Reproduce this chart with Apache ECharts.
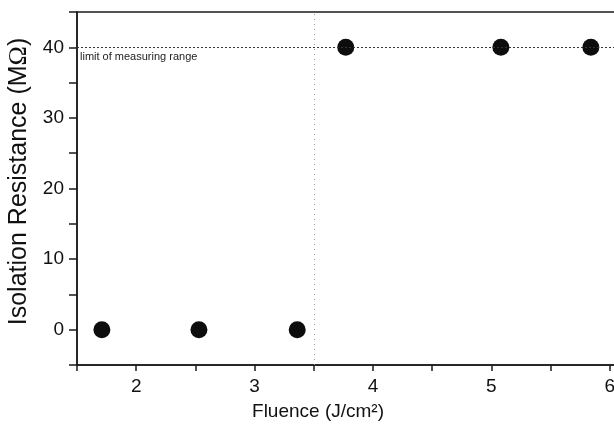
<!DOCTYPE html>
<html>
<head>
<meta charset="utf-8">
<script src="https://cdn.jsdelivr.net/npm/echarts@6/dist/echarts.min.js"></script>
<style>
  html, body { margin: 0; padding: 0; background: #fff; }
  #chart { width: 614px; height: 425px; }
</style>
</head>
<body>
<div id="chart"></div>
<script>
// fluence values (J/cm2) and measured isolation resistance (MOhm)
var fluence = [1.71, 2.53, 3.36, 3.77, 5.08, 5.84];
var resistance = [0, 0, 0, 40, 40, 40];
var limitValue = 40;      // upper limit of the meter
var thresholdX = 3.5;     // vertical dotted separator
var limitText = 'limit of measuring range';

var chart = echarts.init(document.getElementById('chart'));
var font = 'Liberation Sans, Arial, sans-serif';
var axisColor = '#1a1a1a';

var option = {
  backgroundColor: '#fff',
  animation: false,
  grid: {
    left: 77,
    right: -55,
    top: 12,
    bottom: 60,
    outerBoundsMode: 'none',
    show: true,
    borderColor: axisColor,
    borderWidth: 1.5
  },
  xAxis: {
    type: 'value',
    min: 1.5,
    max: 6.5,
    interval: 0.5,
    name: 'Fluence (J/cm²)',
    nameLocation: 'middle',
    nameGap: 37,
    // title sits left of the (partly hidden) axis middle
    nameTextStyle: { fontFamily: font, fontSize: 19, color: '#111', padding: [0, 110, 0, 0] },
    axisLine: { show: true, onZero: false, lineStyle: { color: axisColor, width: 1.5 } },
    axisTick: { show: true, inside: false, length: 6, lineStyle: { color: axisColor, width: 1.5 } },
    axisLabel: {
      fontFamily: font, fontSize: 19, color: '#111', margin: 12,
      formatter: function (v) { return Number.isInteger(v) ? String(v) : ''; }
    },
    splitLine: { show: false }
  },
  yAxis: {
    type: 'value',
    min: -5,
    max: 45,
    interval: 5,
    name: 'Isolation Resistance (M{o|Ω})',
    nameLocation: 'middle',
    nameGap: 39,
    nameTextStyle: {
      fontFamily: font, fontSize: 25, color: '#111', padding: [0, 0, 0, 14],
      rich: { o: { fontFamily: 'Liberation Serif, serif', fontSize: 26, color: '#111' } }
    },
    axisLine: { show: true, onZero: false, lineStyle: { color: axisColor, width: 1.5 } },
    axisTick: { show: true, inside: false, length: 8, lineStyle: { color: axisColor, width: 1.5 } },
    axisLabel: {
      fontFamily: font, fontSize: 19, color: '#111', margin: 13,
      formatter: function (v) { return (v >= 0 && v <= 40 && v % 10 === 0) ? String(v) : ''; }
    },
    splitLine: { show: false }
  },
  series: [
    {
      type: 'scatter',
      symbol: 'circle',
      symbolSize: 17,
      itemStyle: { color: '#0d0d0d', opacity: 1 },
      data: fluence.map(function (x, i) { return [x, resistance[i]]; }),
      markLine: {
        silent: true,
        symbol: ['none', 'none'],
        data: [
          {
            yAxis: limitValue,
            lineStyle: { type: [2, 2], color: '#333', width: 1 },
            label: {
              show: true,
              position: 'insideStartBottom',
              formatter: limitText,
              fontFamily: font,
              fontSize: 11,
              color: '#222',
              distance: [3, 4]
            }
          },
          {
            xAxis: thresholdX,
            lineStyle: { type: [1, 4], color: '#999', width: 1 },
            label: { show: false }
          }
        ]
      }
    }
  ]
};

chart.setOption(option);
</script>
</body>
</html>
